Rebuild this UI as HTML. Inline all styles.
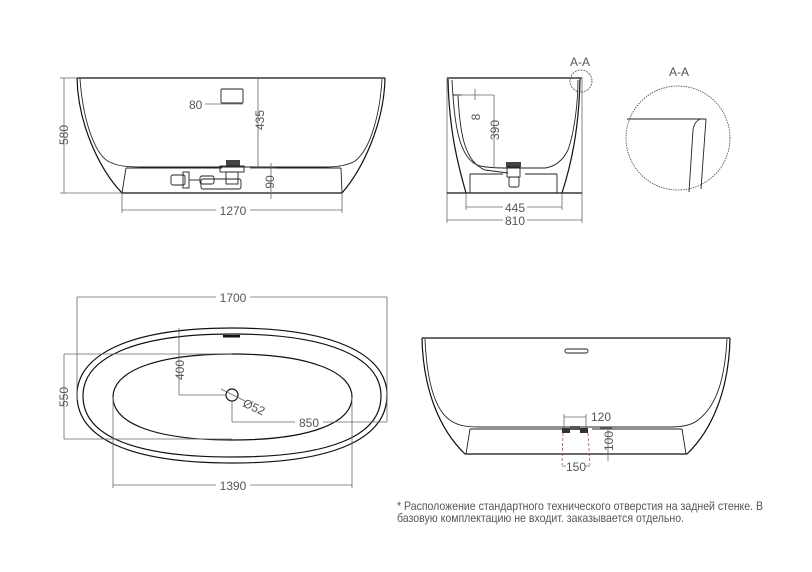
<!DOCTYPE html>
<html><head><meta charset="utf-8"><style>
html,body{margin:0;padding:0;background:#fff;}
svg{display:block;}
text{font-family:"Liberation Sans",sans-serif;fill:#555;font-size:12px;}
.d{stroke:#666;stroke-width:0.8;fill:none;}
.o{stroke:#111;stroke-width:1.2;fill:none;}
.t{stroke:#222;stroke-width:0.9;fill:none;}
</style></head><body>
<svg width="812" height="572" viewBox="0 0 812 572" xmlns="http://www.w3.org/2000/svg">
<!-- FRONT VIEW -->
<line class="o" x1="77" y1="78" x2="385" y2="78"/>
<path class="o" d="M77,78 C78,125 100,170 122,193"/>
<path class="o" d="M385,78 C384,125 362,170 342,193"/>
<line class="o" x1="122" y1="193" x2="342" y2="193"/>
<path class="t" d="M80,79 C83,120 95,158 112,163 Q120,167 140,167 L325,167 Q345,167 355,161 C370,150 380,115 382,79"/>
<path class="t" d="M126,168 L122,193 M341,168 L342,193 M126,168 L222,168 M250,168 L341,168"/>
<rect x="221" y="89" width="22" height="14" class="t" rx="1"/>
<line class="d" x1="205" y1="104" x2="243" y2="104"/>
<text x="189" y="109" font-size="13">80</text>
<!-- drain -->
<rect x="226" y="160" width="14" height="6" fill="#444"/>
<rect x="220" y="166" width="24" height="6" class="t"/>
<rect x="226" y="172" width="12" height="12" class="t"/>
<rect x="201" y="179" width="40" height="10" class="t" rx="2"/>
<rect x="200" y="176" width="14" height="8" class="t" rx="2"/>
<rect x="171" y="175" width="14" height="10" class="t" rx="2"/>
<rect x="183" y="172" width="6" height="16" class="t"/>
<line class="t" x1="189" y1="180" x2="200" y2="180"/>
<!-- dims -->
<line class="d" x1="64" y1="78" x2="64" y2="193"/>
<line class="d" x1="60" y1="78" x2="77" y2="78"/><line class="d" x1="60" y1="193" x2="122" y2="193"/>
<text transform="translate(68,135) rotate(-90)" text-anchor="middle" font-size="14">580</text>
<line class="d" x1="258" y1="78" x2="258" y2="167"/>
<text transform="translate(264,120) rotate(-90)" text-anchor="middle" font-size="14">435</text>
<line class="d" x1="271" y1="163" x2="271" y2="199"/>
<line class="d" x1="250" y1="168" x2="275" y2="168"/>
<text transform="translate(274,182) rotate(-90)" text-anchor="middle" font-size="13">90</text>
<line class="d" x1="122" y1="193" x2="122" y2="213"/><line class="d" x1="342" y1="193" x2="342" y2="213"/>
<line class="d" x1="122" y1="210" x2="216" y2="210"/><line class="d" x1="250" y1="210" x2="342" y2="210"/>
<text x="233" y="215" text-anchor="middle" font-size="14">1270</text>

<!-- SIDE VIEW -->
<line class="o" x1="447" y1="78" x2="582" y2="78"/>
<line class="d" x1="447" y1="78" x2="447" y2="223"/>
<line class="d" x1="582" y1="78" x2="582" y2="223"/>
<line class="o" x1="447" y1="193" x2="582" y2="193"/>
<path class="o" d="M448,79 C449,130 458,165 466,193"/>
<path class="o" d="M580,79 C579,130 571,165 562,193"/>
<path class="t" d="M452,80 C454,120 458,160 480,166 Q490,168 505,168 L545,168 Q560,166 568,150 C575,130 578,100 578,80"/>
<path class="t" d="M453,95 L462,95 M458,96 C460,135 465,162 485,170 L508,173"/>
<path class="t" d="M470,174 L470,193 M557,174 L557,193 M470,174 L503,174 M525,174 L557,174"/>
<rect x="506" y="162" width="15" height="5" fill="#444"/>
<rect x="507" y="167" width="13" height="10" class="t"/>
<rect x="509" y="177" width="10" height="10" class="t" rx="2"/>
<line class="d" x1="460" y1="95" x2="494" y2="95"/>
<line class="d" x1="475" y1="89" x2="475" y2="100"/>
<text transform="translate(480,117) rotate(-90)" text-anchor="middle" font-size="13">8</text>
<line class="d" x1="494" y1="95" x2="494" y2="168"/>
<text transform="translate(499,130) rotate(-90)" text-anchor="middle" font-size="14">390</text>
<line class="d" x1="466" y1="193" x2="466" y2="210"/><line class="d" x1="562" y1="193" x2="562" y2="210"/>
<line class="d" x1="466" y1="207" x2="503" y2="207"/><line class="d" x1="527" y1="207" x2="562" y2="207"/>
<text x="515" y="212" text-anchor="middle" font-size="14">445</text>
<line class="d" x1="447" y1="220" x2="503" y2="220"/><line class="d" x1="527" y1="220" x2="582" y2="220"/>
<text x="515" y="225" text-anchor="middle" font-size="14">810</text>
<circle cx="581" cy="81" r="11" fill="none" stroke="#444" stroke-width="0.8" stroke-dasharray="2,1"/>
<text x="580" y="66" text-anchor="middle" font-size="13" fill="#333">A-A</text>

<!-- DETAIL -->
<text x="679" y="76" text-anchor="middle" font-size="9">A-A</text>
<circle cx="678" cy="138" r="52" fill="none" stroke="#444" stroke-width="0.8" stroke-dasharray="1.5,1"/>
<line class="t" x1="627" y1="119" x2="706" y2="119"/>
<line class="t" x1="706" y1="119" x2="701" y2="189"/>
<path class="t" d="M700,119 Q694,122 693,130 L689,192"/>

<!-- TOP VIEW -->
<path class="o" d="M232,328 C335,328 387,355 387,395 C387,438 335,463 232,463 C129,463 77,438 77,395 C77,355 129,328 232,328 Z"/>
<path class="o" d="M232,334 C330,334 381,358 381,396 C381,436 330,457 232,457 C134,457 83,436 83,396 C83,358 134,334 232,334 Z"/>
<path class="o" d="M232,354 C310,354 352,372 352,397 C352,423 310,440 232,440 C154,440 113,423 113,397 C113,372 154,354 232,354 Z"/>
<rect x="223" y="335" width="17" height="2.5" fill="#111"/>
<circle cx="232" cy="395" r="6" class="o"/>
<line class="d" x1="221" y1="389" x2="245" y2="401"/>
<text transform="translate(242,406) rotate(25)" font-size="13">Ø52</text>
<line class="d" x1="77" y1="297" x2="77" y2="400"/><line class="d" x1="387" y1="297" x2="387" y2="422"/>
<line class="d" x1="77" y1="297" x2="216" y2="297"/><line class="d" x1="250" y1="297" x2="387" y2="297"/>
<text x="233" y="302" text-anchor="middle" font-size="14">1700</text>
<line class="d" x1="64" y1="354" x2="232" y2="354"/><line class="d" x1="64" y1="439" x2="232" y2="439"/>
<line class="d" x1="64" y1="354" x2="64" y2="439"/>
<text transform="translate(68,397) rotate(-90)" text-anchor="middle" font-size="14">550</text>
<line class="d" x1="179" y1="328" x2="179" y2="395"/><line class="d" x1="179" y1="395" x2="226" y2="395"/>
<text transform="translate(184,370) rotate(-90)" text-anchor="middle" font-size="14">400</text>
<line class="d" x1="232" y1="401" x2="232" y2="422"/><line class="d" x1="232" y1="422" x2="295" y2="422"/><line class="d" x1="323" y1="422" x2="387" y2="422"/>
<text x="309" y="427" text-anchor="middle" font-size="14">850</text>
<line class="d" x1="113" y1="397" x2="113" y2="488"/><line class="d" x1="352" y1="397" x2="352" y2="488"/>
<line class="d" x1="113" y1="485" x2="216" y2="485"/><line class="d" x1="250" y1="485" x2="352" y2="485"/>
<text x="233" y="490" text-anchor="middle" font-size="14">1390</text>

<!-- BACK VIEW -->
<line class="o" x1="422" y1="338" x2="730" y2="338"/>
<path class="o" d="M422,338 C423,390 440,430 465,454"/>
<path class="o" d="M730,338 C729,390 712,430 687,454"/>
<line class="o" x1="465" y1="454" x2="687" y2="454"/>
<path class="t" d="M425,339 C427,385 436,415 455,423 Q462,427 480,427 L670,427 Q690,427 698,420 C718,405 725,375 727,339"/>
<path class="t" d="M470,429 L466,454 M682,429 L686,454 M470,429 L562,429 M592,429 L682,429"/>
<rect x="565" y="349" width="23" height="4" rx="2" class="t"/>
<rect x="562" y="428" width="8" height="5" fill="#333"/><rect x="580" y="428" width="8" height="5" fill="#333"/>
<rect x="570" y="426" width="10" height="4" fill="#555"/>
<line x1="563" y1="433" x2="562" y2="465" stroke="#a55" stroke-width="0.8" stroke-dasharray="3,2"/>
<line x1="588" y1="433" x2="590" y2="465" stroke="#a55" stroke-width="0.8" stroke-dasharray="3,2"/>
<line class="d" x1="564" y1="417" x2="586" y2="417"/><line class="d" x1="564" y1="414" x2="564" y2="428"/><line class="d" x1="586" y1="414" x2="586" y2="428"/>
<text x="591" y="421" font-size="14">120</text>
<line class="d" x1="608" y1="428" x2="608" y2="461"/><line class="d" x1="600" y1="428" x2="612" y2="428"/>
<text transform="translate(613,441) rotate(-90)" text-anchor="middle" font-size="14">100</text>
<line class="d" x1="562" y1="466" x2="566" y2="466"/><line class="d" x1="586" y1="466" x2="590" y2="466"/>
<text x="576" y="471" text-anchor="middle" font-size="14">150</text>

<!-- NOTE -->
<text x="397" y="510" font-size="9.5" fill="#222" textLength="366" lengthAdjust="spacingAndGlyphs">* Расположение стандартного технического отверстия на задней стенке. В</text>
<text x="397" y="522" font-size="9.5" fill="#222" textLength="287" lengthAdjust="spacingAndGlyphs">базовую комплектацию не входит. заказывается отдельно.</text>
</svg>
</body></html>
